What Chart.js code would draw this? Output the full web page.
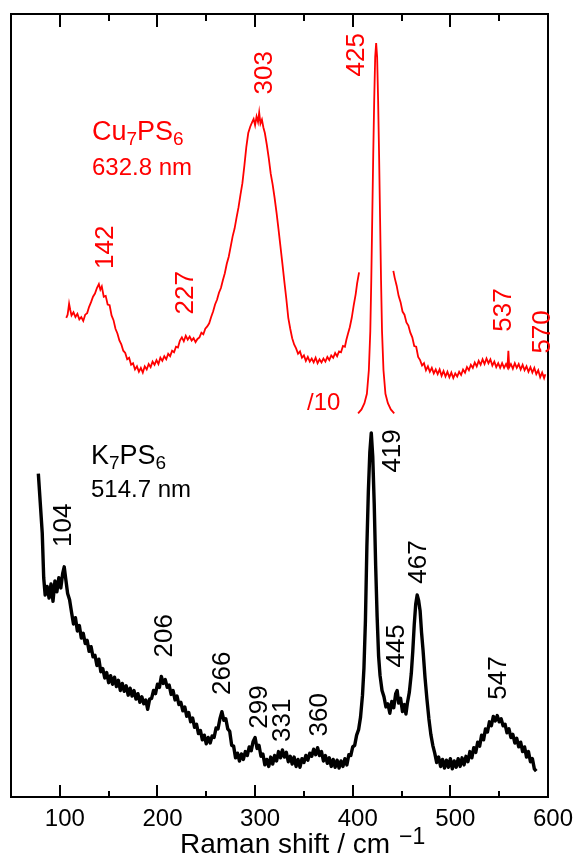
<!DOCTYPE html>
<html>
<head>
<meta charset="utf-8">
<script src="https://cdn.jsdelivr.net/npm/chart.js@4.4.1/dist/chart.umd.min.js"></script>
<style>
  body { margin: 0; background: #fff; }
</style>
</head>
<body>
<canvas id="ramanChart" width="577" height="856"></canvas>
<script>
// K7PS6, 514.7 nm excitation: raman shift (cm-1) and intensity (arb. units)
var kShift = [
  78, 80, 82, 83.5, 85, 87, 89, 91, 93, 95,
  97, 99, 101, 103, 104.5, 106, 108, 110, 112, 114,
  116, 118, 120, 122, 124, 126, 128, 130, 132, 134,
  136, 138, 140, 142, 144, 146, 148, 150, 152, 154,
  156, 158, 160, 162, 164, 166, 168, 170, 172, 174,
  176, 178, 180, 182, 184, 186, 188, 190, 192, 194,
  196, 198, 200, 202, 204, 206, 208, 210, 212, 214,
  216, 218, 220, 222, 224, 226, 228, 230, 232, 234,
  236, 238, 240, 242, 244, 246, 248, 250, 252, 254,
  256, 258, 260, 262, 264, 266, 268, 270, 272, 274,
  276, 278, 280, 282, 284, 286, 288, 290, 292, 294,
  296, 298, 300, 302, 304, 306, 308, 310, 312, 314,
  316, 318, 320, 322, 324, 326, 328, 330, 332, 334,
  336, 338, 340, 342, 344, 346, 348, 350, 352, 354,
  356, 358, 360, 362, 364, 366, 368, 370, 372, 374,
  376, 378, 380, 382, 384, 386, 388, 390, 392, 394,
  396, 398, 400, 402, 404, 406, 408, 410, 411.5, 413,
  414.5, 416, 417.5, 419, 420.5, 422, 423.5, 425, 426.5, 428,
  430, 432, 434, 436, 438, 440, 442, 444, 445.5, 447,
  449, 451, 453, 454.5, 456, 458, 460, 461.5, 463, 464.5,
  466, 467.5, 469, 470.5, 472, 474, 476, 478, 480, 482,
  484, 486, 488, 490, 492, 494, 496, 498, 500, 502,
  504, 506, 508, 510, 512, 514, 516, 518, 520, 522,
  524, 526, 528, 530, 532, 534, 536, 538, 540, 542,
  544, 546, 548, 550, 552, 554, 556, 558, 560, 562,
  564, 566, 568, 570, 572, 574, 576, 578, 580, 582,
  584, 586, 588
];
var kInt = [
  41.3, 37.5, 33.7, 28.0, 25.8, 26.9, 25.4, 27.2, 25.0, 27.6,
  26.2, 28.0, 26.7, 28.6, 29.4, 27.9, 26.0, 25.2, 23.6, 22.1,
  22.9, 21.2, 21.9, 20.3, 20.9, 19.6, 20.0, 18.6, 19.2, 17.9,
  18.1, 16.8, 17.6, 16.0, 16.4, 15.2, 15.9, 14.6, 15.5, 14.4,
  15.3, 14.1, 14.9, 13.6, 14.5, 13.5, 14.2, 13.0, 13.9, 12.9,
  13.6, 12.5, 13.2, 12.1, 12.8, 11.9, 12.4, 11.2, 12.5, 12.6,
  13.6, 13.2, 14.4, 14.0, 15.4, 14.5, 15.0, 14.0, 14.3, 13.1,
  13.6, 12.4, 12.9, 11.8, 12.1, 11.0, 11.5, 10.3, 10.8, 9.6,
  10.1, 8.9, 9.3, 8.1, 8.5, 7.3, 7.9, 6.8, 7.6, 6.9,
  7.8, 7.6, 8.8, 8.7, 10.0, 10.9, 9.8, 10.0, 8.7, 8.4,
  6.6, 6.5, 5.0, 5.6, 4.6, 5.5, 4.8, 5.8, 5.3, 6.4,
  5.9, 7.1, 7.6, 6.2, 6.6, 5.2, 5.5, 4.1, 4.8, 3.9,
  5.1, 4.2, 5.3, 4.6, 5.8, 5.0, 6.0, 5.1, 5.7, 4.5,
  5.2, 4.2, 5.1, 3.9, 4.8, 3.8, 4.9, 4.4, 5.3, 4.7,
  5.6, 5.2, 6.1, 5.4, 6.3, 5.3, 5.8, 4.6, 5.3, 4.3,
  5.0, 3.9, 4.8, 3.8, 4.7, 3.7, 4.6, 3.9, 4.9, 4.1,
  5.4, 5.3, 6.4, 6.6, 7.9, 8.6, 10.2, 13.0, 16.5, 22.5,
  32.0, 39.0, 44.0, 46.5, 43.5, 37.5, 29.5, 23.0, 18.0, 15.5,
  13.6, 12.8, 11.5, 11.9, 10.7, 12.2, 11.4, 13.2, 13.6, 12.0,
  12.6, 10.9, 11.8, 10.6, 12.0, 13.4, 15.8, 18.6, 22.0, 24.6,
  25.8, 25.1, 23.8, 21.0, 18.8, 15.3, 12.5, 10.0, 8.0, 6.6,
  5.6, 4.4, 5.1, 3.9, 4.8, 3.7, 4.7, 3.8, 4.9, 3.6,
  4.6, 3.8, 4.9, 3.9, 5.0, 4.1, 5.2, 4.5, 5.8, 5.0,
  6.3, 5.7, 7.0, 6.5, 7.9, 7.3, 8.7, 8.3, 9.6, 9.1,
  10.3, 9.7, 10.4, 9.6, 10.0, 9.1, 9.3, 8.2, 8.7, 7.6,
  8.0, 6.9, 7.5, 6.4, 7.0, 5.8, 6.4, 5.1, 5.8, 4.5,
  4.9, 3.6, 3.3
];

// Cu7PS6, 632.8 nm excitation (gap where the strong band is plotted /10)
var cuShift = [
  106.6, 108, 109.5, 110.7, 112, 114, 116, 118, 120, 122,
  124, 126, 128, 130, 132, 134, 136, 138, 140, 141.5,
  143, 145, 147, 149, 151, 153, 155, 157, 159, 161,
  163, 165, 167, 169, 171, 173, 175, 177, 179, 181,
  183, 185, 187, 189, 191, 193, 195, 197, 199, 201,
  203, 205, 207, 209, 211, 213, 215, 217, 219, 221,
  223, 225, 227, 229, 231, 233, 235, 237, 239, 241,
  243, 245, 247, 249, 251, 253, 255, 257, 259, 261,
  263, 265, 267, 269, 271, 273, 275, 277, 279, 281,
  283, 285, 287, 289, 291, 293, 295, 297, 298.5, 300,
  301.5, 303, 304.2, 305.5, 307, 308.5, 310, 312, 314, 316,
  318, 320, 322, 324, 326, 328, 330, 332, 334, 336,
  338, 340, 342, 344, 346, 348, 350, 352, 354, 356,
  358, 360, 362, 364, 366, 368, 370, 372, 374, 376,
  378, 380, 382, 384, 386, 388, 390, 392, 393.5, 395,
  397, 399, 401, 403, 404.5, 406.5, 424, 441.6, 443, 445,
  447, 449, 451, 453, 455, 457, 459, 461, 463, 465,
  467, 469, 471, 473, 475, 477, 479, 481, 483, 485,
  487, 489, 491, 493, 495, 497, 499, 501, 503, 505,
  507, 509, 511, 513, 515, 517, 519, 521, 523, 525,
  527, 529, 531, 533, 535, 537, 539, 541, 543, 545,
  547, 549, 551, 553, 555, 557, 558.5, 559.4, 560.3, 562,
  564, 566, 568, 570, 572, 574, 576, 578, 580, 582,
  584, 586, 588, 590, 592, 594, 596, 597.3
];
var cuInt = [
  61.2, 61.6, 63.0, 62.2, 61.5, 61.9, 61.3, 61.7, 61.0, 61.3,
  60.8, 61.6, 61.8, 62.6, 63.2, 63.9, 64.3, 65.0, 65.5, 64.8,
  65.2, 63.9, 64.0, 62.9, 62.8, 61.5, 60.9, 59.8, 59.2, 58.3,
  57.8, 57.0, 56.7, 55.9, 56.1, 55.2, 55.4, 54.6, 55.0, 54.3,
  54.8, 54.2, 55.0, 54.6, 55.3, 54.9, 55.6, 55.2, 55.8, 55.3,
  56.1, 55.7, 56.3, 55.9, 56.6, 56.3, 57.0, 56.8, 57.5, 57.4,
  58.3, 58.7, 58.2, 58.9, 58.4, 58.8, 58.3, 58.6, 58.1, 58.5,
  58.7, 59.3, 59.1, 59.8, 60.1, 60.5, 61.3, 62.0, 62.9, 63.5,
  64.4, 65.0, 66.0, 66.9, 68.1, 69.0, 70.3, 71.6, 72.6, 74.0,
  75.3, 76.9, 78.4, 80.6, 83.0, 84.8, 85.6, 86.2, 86.6, 85.8,
  86.9, 86.2, 87.4, 86.0, 86.5, 85.5, 84.8, 83.3, 81.6, 79.6,
  78.2, 76.5, 74.6, 72.5, 70.3, 68.1, 65.8, 63.6, 61.2, 59.8,
  58.6, 57.8, 57.3, 56.6, 56.9, 56.1, 56.4, 55.7, 56.2, 55.6,
  56.0, 55.5, 56.1, 55.4, 55.9, 55.5, 56.0, 55.6, 56.2, 55.8,
  56.4, 56.1, 56.7, 56.3, 56.9, 56.8, 57.6, 57.5, 58.4, 59.1,
  60.0, 61.2, 62.8, 64.2, 65.6, 67.0, null, 67.2, 66.3, 65.3,
  64.0, 63.2, 62.0, 61.6, 60.6, 60.2, 59.3, 58.7, 57.6, 57.5,
  56.2, 55.8, 55.1, 55.4, 54.5, 55.0, 54.3, 54.8, 54.1, 54.6,
  54.0, 54.6, 53.8, 54.4, 53.7, 54.3, 53.6, 54.2, 53.5, 54.1,
  53.7, 54.3, 53.9, 54.6, 54.2, 54.9, 54.5, 55.2, 54.8, 55.5,
  55.0, 55.7, 55.2, 55.9, 55.3, 56.0, 55.4, 55.9, 55.1, 55.6,
  54.9, 55.4, 54.8, 55.4, 54.8, 55.3, 54.9, 57.0, 54.9, 55.3,
  54.7, 55.4, 54.8, 55.3, 54.6, 55.2, 54.5, 55.0, 54.3, 54.9,
  54.2, 54.8, 54.0, 54.5, 53.6, 54.2, 53.5, 54.0
];

// the 425 cm-1 band of Cu7PS6, intensity divided by 10
var cuStrongShift = [
  405.5, 409, 412, 414.5, 416.5, 418, 419, 420, 421, 422,
  423, 424, 425, 426, 427, 428, 429, 430, 431.5, 433.5,
  436, 439, 442.5
];
var cuStrongInt = [
  49.0, 49.5, 50.3, 51.5, 54.5, 59.5, 66.0, 74.0, 82.0, 89.0,
  94.5, 96.3, 94.5, 89.0, 82.0, 74.0, 66.0, 59.5, 54.5, 51.5,
  50.3, 49.5, 49.0
];

var xTicks = [100, 200, 300, 400, 500, 600];
var xMinorTicks = [150, 250, 350, 450, 550];

// band labels, placed at (shift, intensity)
var cuBandText = ['142', '227', '303', '425', '537', '570'];
var cuBandShift = [146.5, 228.4, 309.2, 403.4, 553.9, 593.8];
var cuBandInt = [70.2, 64.4, 92.5, 94.8, 62.2, 59.4];
var kBandText = ['104', '206', '266', '299', '331', '360', '419', '445', '467', '547'];
var kBandShift = [103.5, 206.9, 266.3, 304.1, 327.6, 365.5, 440.2, 444.3, 466.8, 548.7];
var kBandInt = [34.7, 20.6, 15.8, 11.5, 9.8, 10.5, 44.2, 19.3, 30.0, 15.2];

var RED = '#ff0000';
var FONT = "'Liberation Sans', Arial, sans-serif";

function toPoints(xs, ys) {
    var pts = [];
    for (var i = 0; i < xs.length; i++) {
        pts.push({ x: xs[i], y: ys[i] });
    }
    return pts;
}

// draws e.g. Cu7PS6 with the digits as subscripts
function drawFormula(ctx, parts, x, y, size) {
    for (var i = 0; i < parts.length; i++) {
        var sub = /^[0-9]+$/.test(parts[i]);
        ctx.font = (sub ? Math.round(size * 0.72) : size) + 'px ' + FONT;
        ctx.fillText(parts[i], x, sub ? y + 5 : y);
        x += ctx.measureText(parts[i]).width;
    }
}

function drawBandLabels(ctx, xs, ys, texts, shifts, ints, color) {
    ctx.fillStyle = color;
    ctx.font = '26px ' + FONT;
    ctx.textAlign = 'center';
    ctx.textBaseline = 'middle';
    for (var i = 0; i < texts.length; i++) {
        ctx.save();
        ctx.translate(xs.getPixelForValue(shifts[i]), ys.getPixelForValue(ints[i]));
        ctx.rotate(-Math.PI / 2);
        ctx.fillText(texts[i], 0, 1);
        ctx.restore();
    }
}

var framePlugin = {
    id: 'framePlugin',
    afterDraw: function (chart) {
        var ctx = chart.ctx;
        var a = chart.chartArea;
        var xs = chart.scales.x;
        var ys = chart.scales.y;
        ctx.save();

        // frame
        ctx.strokeStyle = '#000';
        ctx.lineWidth = 2;
        ctx.strokeRect(a.left, a.top, a.right - a.left, a.bottom - a.top);

        // inward ticks on top and bottom
        ctx.beginPath();
        xTicks.forEach(function (v) {
            var px = Math.round(xs.getPixelForValue(v));
            ctx.moveTo(px, a.bottom); ctx.lineTo(px, a.bottom - 12);
            ctx.moveTo(px, a.top); ctx.lineTo(px, a.top + 13);
        });
        xMinorTicks.forEach(function (v) {
            var px = Math.round(xs.getPixelForValue(v));
            ctx.moveTo(px, a.bottom); ctx.lineTo(px, a.bottom - 6);
            ctx.moveTo(px, a.top); ctx.lineTo(px, a.top + 7);
        });
        ctx.stroke();

        // tick labels
        ctx.fillStyle = '#000';
        ctx.font = '24px ' + FONT;
        ctx.textAlign = 'center';
        ctx.textBaseline = 'alphabetic';
        xTicks.forEach(function (v) {
            ctx.fillText(String(v), xs.getPixelForValue(v) + 5, a.bottom + 29);
        });

        // axis title with superscript
        ctx.textAlign = 'left';
        ctx.font = '28px ' + FONT;
        var title = 'Raman shift / cm';
        var tx = 180;
        ctx.fillText(title, tx, a.bottom + 56);
        tx += ctx.measureText(title).width + 9;
        ctx.font = '23px ' + FONT;
        ctx.fillText('\u22121', tx, a.bottom + 47);

        // sample names
        ctx.fillStyle = RED;
        drawFormula(ctx, ['Cu', '7', 'PS', '6'], 92, 140, 27);
        ctx.font = '24px ' + FONT;
        ctx.fillText('632.8 nm', 92, 175);
        ctx.fillText('/10', 307, 410);

        ctx.fillStyle = '#000';
        drawFormula(ctx, ['K', '7', 'PS', '6'], 91, 464, 27);
        ctx.font = '24px ' + FONT;
        ctx.fillText('514.7 nm', 91, 497);

        drawBandLabels(ctx, xs, ys, cuBandText, cuBandShift, cuBandInt, RED);
        drawBandLabels(ctx, xs, ys, kBandText, kBandShift, kBandInt, '#000');
        ctx.restore();
    }
};

new Chart(document.getElementById('ramanChart'), {
    type: 'scatter',
    data: {
        datasets: [{
            label: 'K7PS6',
            data: toPoints(kShift, kInt),
            showLine: true,
            borderColor: '#000',
            borderWidth: 3.4,
            borderJoinStyle: 'round',
            pointRadius: 0,
            tension: 0
        }, {
            label: 'Cu7PS6',
            data: toPoints(cuShift, cuInt),
            showLine: true,
            spanGaps: false,
            borderColor: RED,
            borderWidth: 1.8,
            pointRadius: 0,
            tension: 0
        }, {
            label: 'Cu7PS6 /10',
            data: toPoints(cuStrongShift, cuStrongInt),
            showLine: true,
            borderColor: RED,
            borderWidth: 1.8,
            pointRadius: 0,
            tension: 0
        }]
    },
    options: {
        responsive: false,
        animation: false,
        layout: { padding: { left: 11, right: 29, top: 14, bottom: 59 } },
        plugins: {
            legend: { display: false },
            tooltip: { enabled: false }
        },
        scales: {
            x: { type: 'linear', min: 50, max: 600, display: false },
            y: { min: 0, max: 100, display: false }
        }
    },
    plugins: [framePlugin]
});
</script>
</body>
</html>
